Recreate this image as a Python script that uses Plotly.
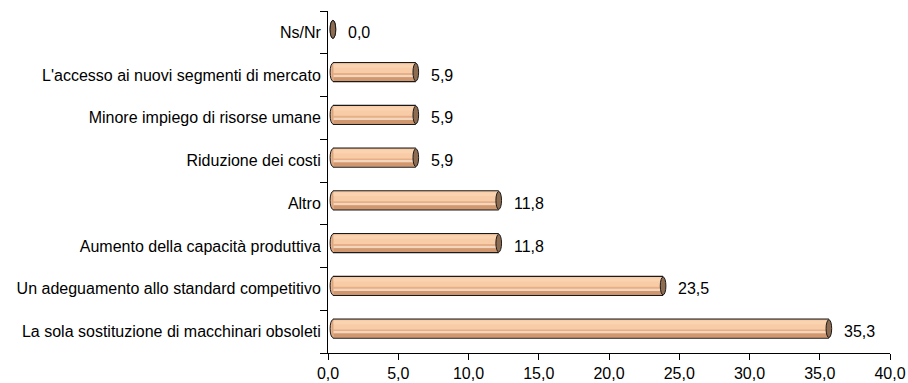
import plotly.graph_objects as go

# Data (bottom to top)
categories = [
    "La sola sostituzione di macchinari obsoleti",
    "Un adeguamento allo standard competitivo",
    "Aumento della capacità produttiva",
    "Altro",
    "Riduzione dei costi",
    "Minore impiego di risorse umane",
    "L'accesso ai nuovi segmenti di mercato",
    "Ns/Nr",
]
values = [35.3, 23.5, 11.8, 11.8, 5.9, 5.9, 5.9, 0.0]
x_ticks = [0, 5, 10, 15, 20, 25, 30, 35, 40]

# Style constants (3D cylinder look)
DEPTH = 0.35          # horizontal shift of cylinders (3D depth)
LIFT = 0.07           # vertical shift of cylinders (3D depth)
THICK = 0.42          # cylinder thickness (category units)
OUTL = 0.47           # outline thickness
CAP_HW = 0.2          # half width of elliptic caps (x units)
FONT = "Liberation Sans, Arial, sans-serif"
FS = 16

fig = go.Figure()

def band(frac0, frac1, color, name):
    w = THICK * (frac1 - frac0)
    off = LIFT - THICK / 2 + THICK * frac0
    fig.add_trace(go.Bar(
        y=categories, x=[max(v - 0.05, 0) for v in values],
        base=DEPTH + 0.05, orientation="h", width=w, offset=off,
        marker=dict(color=color, line=dict(width=0)),
        hoverinfo="skip", showlegend=False, name=name))

# black outline bar
fig.add_trace(go.Bar(
    y=categories, x=values, base=DEPTH, orientation="h",
    width=OUTL, offset=LIFT - OUTL / 2,
    marker=dict(color="#1a1a1a", line=dict(width=0)),
    hoverinfo="skip", showlegend=False))
# body
fig.add_trace(go.Bar(
    y=categories, x=values, base=DEPTH, orientation="h",
    width=THICK, offset=LIFT - THICK / 2,
    marker=dict(color="#E6AF87", line=dict(width=0)),
    hoverinfo="skip", showlegend=False))
band(0.0, 0.22, "#D19870", "dark")
band(0.26, 0.34, "#F3D6BE", "pale")
band(0.45, 1.0, "#F8CCA6", "light")
band(0.75, 0.92, "#FAD3B1", "lighter")

shapes = []
for i, v in enumerate(values):
    yc = i + LIFT
    # rounded left end
    shapes.append(dict(
        type="circle", xref="x", yref="y", layer="below",
        x0=DEPTH - CAP_HW, x1=DEPTH + CAP_HW,
        y0=yc - THICK / 2, y1=yc + THICK / 2,
        fillcolor="#E9B38B", line=dict(color="#1a1a1a", width=1)))
    # brown end cap
    shapes.append(dict(
        type="circle", xref="x", yref="y", layer="above",
        x0=v + DEPTH - CAP_HW, x1=v + DEPTH + CAP_HW,
        y0=yc - THICK / 2, y1=yc + THICK / 2,
        fillcolor="#8E6C51", line=dict(color="#1a1a1a", width=1)))

annotations = []
for i, v in enumerate(values):
    annotations.append(dict(
        x=v + DEPTH + CAP_HW, y=i, xref="x", yref="y",
        text=f"{v:.1f}".replace(".", ","), showarrow=False,
        xanchor="left", yanchor="middle", xshift=10, yshift=0,
        font=dict(family=FONT, size=FS, color="#000000")))

fig.update_layout(
    width=908, height=383,
    margin=dict(l=328, r=18, t=11, b=30, autoexpand=False),
    barmode="overlay",
    plot_bgcolor="white", paper_bgcolor="white",
    separators=",.",
    shapes=shapes, annotations=annotations,
    font=dict(family=FONT, size=FS, color="#000000"),
    xaxis=dict(
        range=[0, 40], tickvals=x_ticks, tickformat=".1f",
        showline=True, linecolor="#000000", linewidth=1,
        ticks="outside", ticklen=6, tickcolor="#000000",
        showgrid=False, zeroline=False, automargin=False,
        tickfont=dict(family=FONT, size=FS)),
    yaxis=dict(
        type="category", categoryorder="array", categoryarray=categories,
        range=[-0.5, 7.5],
        showline=True, linecolor="#000000", linewidth=1,
        ticks="outside", ticklen=7, tickcolor="#000000",
        tickson="boundaries", showgrid=False, zeroline=False,
        automargin=False, ticklabelstandoff=3,
        tickfont=dict(family=FONT, size=FS)),
)

# remove the default page margin so the 908x383 figure fills the window
fig.write_html(
    "out.html",
    config={"displayModeBar": False},
    post_script="document.body.style.margin='0';document.body.style.overflow='hidden';",
)
